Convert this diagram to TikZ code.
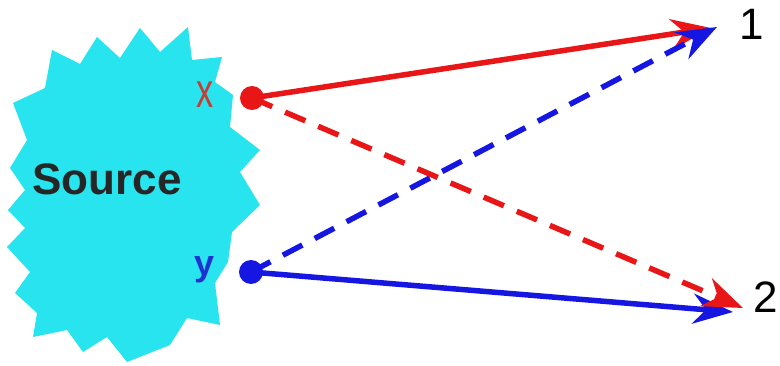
\documentclass[tikz,border=0pt]{standalone}
\usepackage{fontspec}
\setmainfont{Liberation Sans}
\usetikzlibrary{arrows.meta}
\definecolor{burst}{RGB}{40,228,238}
\definecolor{rd}{RGB}{232,22,22}
\definecolor{bl}{RGB}{22,22,226}
\definecolor{xlab}{RGB}{200,60,50}
\definecolor{ylab}{RGB}{30,50,210}
\tikzset{
  ray/.style={line width=5.5pt, -{Stealth[length=40pt,width=30pt,inset=13pt]}},
  dashray/.style={ray, dash pattern=on 22pt off 14pt},
  dot/.style={circle, inner sep=0pt, minimum size=24pt},
  lbl/.style={inner sep=0pt, font=\fontsize{44}{44}\selectfont},
}
\begin{document}
\begin{tikzpicture}[x=1pt,y=-1pt]
\useasboundingbox (0,0) rectangle (780,366);
\clip (0,0) rectangle (780,366);
\fill[burst] (52,50) -- (80,64) -- (97,37) -- (120,58) -- (140,28) -- (160,52) -- (188,27)
  -- (192,60) -- (222,57) -- (215,82) -- (233,95) -- (230,127) -- (260,150) -- (240,172)
  -- (260,205) -- (232,232) -- (228,262) -- (215,283) -- (220,325) -- (187,318)
  -- (170,345) -- (127,362) -- (107,337) -- (83,352) -- (67,330) -- (33,337) -- (37,313)
  -- (15,293) -- (30,272) -- (7,247) -- (25,228) -- (8,210) -- (25,190) -- (10,168)
  -- (27,140) -- (13,103) -- (45,88) -- cycle;
\node[lbl, font=\bfseries\fontsize{44}{44}\selectfont, text=black!85] (src) at (107,179) {Source};
\node[inner sep=0pt, text=xlab, font=\fontsize{36}{36}\selectfont] (xl) at (205,95) {\scalebox{0.95}[1.35]{x}};
\node[inner sep=0pt, text=ylab, font=\bfseries\fontsize{36}{36}\selectfont] (yl) at (205,270) {y};
\node[dot, fill=rd] (xd) at (252,98) {};
\node[dot, fill=bl] (yd) at (251,272) {};
\coordinate (t1) at (717,27);
\coordinate (t1r) at (711,28);
\coordinate (t2) at (743,308);
\coordinate (t2b) at (733,312);
\node[lbl] (n1) at (752,24) {1};
\node[lbl] (n2) at (766,297) {2};
\draw[ray, rd] (xd.center) -- (t1r);
\draw[dashray, bl] (yd.center) -- (t1);
\draw[ray, bl] (yd.center) -- (t2b);
\draw[dashray, rd] (xd.center) -- (t2);
\end{tikzpicture}
\end{document}
